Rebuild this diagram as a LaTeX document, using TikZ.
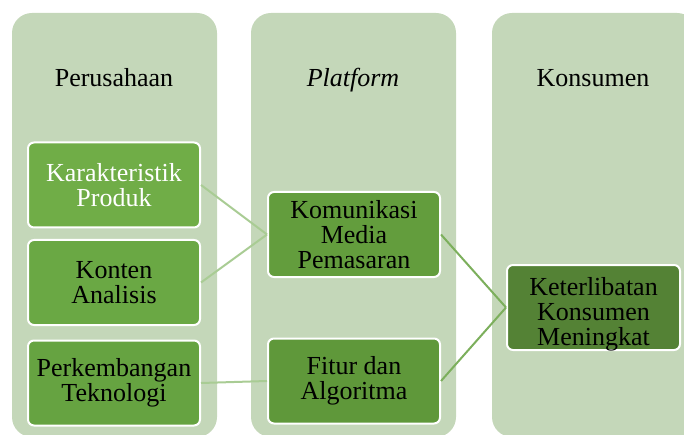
\documentclass[tikz,border=0pt]{standalone}
\usepackage{fontspec}
\setmainfont{Liberation Serif}
\usepackage{xcolor}
\definecolor{colbg}{RGB}{196,215,185}
\definecolor{grA}{RGB}{112,173,71}
\definecolor{grB}{RGB}{106,168,68}
\definecolor{grC}{RGB}{102,163,65}
\definecolor{grD}{RGB}{99,157,61}
\definecolor{grE}{RGB}{95,152,58}
\definecolor{grF}{RGB}{84,130,53}
\definecolor{lnlight}{RGB}{169,204,148}
\definecolor{lndark}{RGB}{124,175,92}
\usetikzlibrary{positioning}

\tikzset{
  colbox/.style={fill=colbg, rounded corners=20pt},
  itembox/.style={draw=white, line width=2pt, rounded corners=6pt,
    minimum width=172pt, minimum height=85pt, align=center, inner sep=2pt,
    font=\fontsize{26}{25}\selectfont},
  itemtext/.style={align=center, inner sep=0pt, font=\fontsize{26}{25}\selectfont},
  header/.style={anchor=base, font=\fontsize{26}{25}\selectfont},
  link/.style={line width=2pt}
}

\begin{document}
\begin{tikzpicture}[x=1pt, y=-1pt]
\useasboundingbox (0,0) rectangle (684,435);
\clip (0,0) rectangle (684,435);

% === Columns ===
\fill[colbox] (12,13) rectangle (217,437);
\fill[colbox] (251,13) rectangle (456,437);
\fill[colbox] (492,13) rectangle (697,437);

\node[header] (perusahaan) at (114,87) {Perusahaan};
\node[header] (platform) at (353,87) {\textit{Platform}};
\node[header] (konsumen) at (593,87) {Konsumen};

% === Perusahaan ===
\node[itembox, fill=grA, text=white] (karakteristik) at (114,185) {Karakteristik\\Produk};
\node[itembox, fill=grB] (konten) at (114,282.5) {Konten\\Analisis};
\node[itembox, fill=grC] (perkembangan) at (114,383) {Perkembangan\\Teknologi};

% === Platform ===
\node[itembox, fill=grD] (komunikasi) at (354,234.5) {Komunikasi\\Media\\Pemasaran};
\node[itembox, fill=grE] (fitur) at (354,381) {Fitur dan\\Algoritma};

% === Konsumen ===
\node[itembox, fill=grF, minimum width=173pt] (keterlibatan) at (593.5,307.5) {};
\node[itemtext] (keterlibatanlabel) at ([yshift=-7pt]keterlibatan.center) {Keterlibatan\\Konsumen\\Meningkat};

% Links
\draw[link, lnlight] (karakteristik.east) -- (komunikasi.west);
\draw[link, lnlight] (konten.east) -- (komunikasi.west);
\draw[link, lnlight] (perkembangan.east) -- (fitur.west);
\draw[link, lndark] (komunikasi.east) -- (keterlibatan.west);
\draw[link, lndark] (fitur.east) -- (keterlibatan.west);

\end{tikzpicture}
\end{document}
